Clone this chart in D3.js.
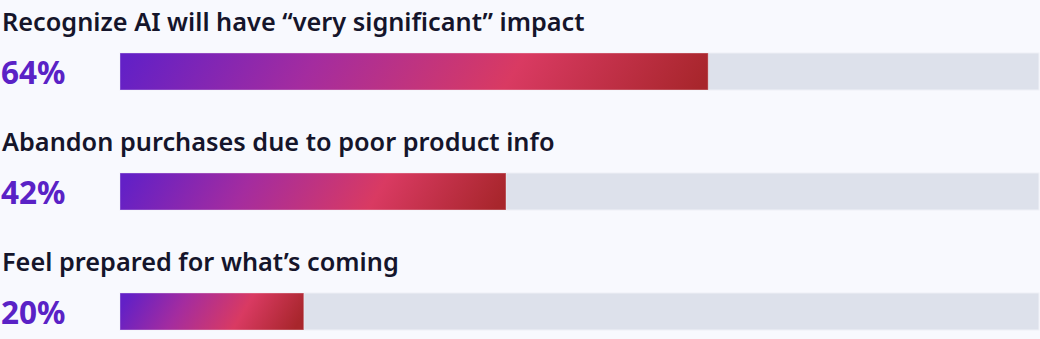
<!DOCTYPE html>
<html>
<head>
<meta charset="utf-8">
<script src="https://cdn.jsdelivr.net/npm/d3@7"></script>
<style>
  html, body { margin: 0; padding: 0; background: #f8f9fe; }
</style>
</head>
<body>
<div id="main"></div>
<script>
(function(){

  const labels = [
    'Recognize AI will have \u201cvery significant\u201d impact',
    'Abandon purchases due to poor product info',
    'Feel prepared for what\u2019s coming'
  ]
  const values = [64, 42, 20]

  const width = 1040
  const height = 339
  const margin = {top: 0, right: 1, bottom: 0, left: 120}
  const rowHeight = 120
  const barHeight = 37
  const tilt = 0.6 // horizontal shift of gradient stripes per px of height

  const svg = d3.select('#main').append('svg')
    .attr('width', width)
    .attr('height', height)
    .style('display', 'block')

  const xScale = d3.scaleLinear()
    .domain([0, 100])
    .range([margin.left, width - margin.right])

  const yScale = d3.scaleBand()
    .domain(d3.range(labels.length))
    .range([0, rowHeight * labels.length])

  const data = labels.map((l, i) => ({label: l, value: values[i], i}))

  const stops = [
    [0, '#6320c6'],
    [0.32, '#a42c9f'],
    [0.67, '#d93a62'],
    [1, '#a8262c']
  ]

  const defs = svg.append('defs')
  data.forEach(d => {
    const w = xScale(d.value) - xScale(0)
    const t = tilt * barHeight / w
    const g = defs.append('linearGradient')
      .attr('id', 'grad' + d.i)
      .attr('x1', 0).attr('y1', 0.5 - t / 2)
      .attr('x2', 1).attr('y2', 0.5 + t / 2)
    stops.forEach(s => g.append('stop').attr('offset', s[0]).attr('stop-color', s[1]))
  })

  const rows = svg.selectAll('g.row')
    .data(data)
    .join('g')
    .attr('class', 'row')
    .attr('transform', d => `translate(0,${yScale(d.i)})`)

  rows.append('text')
    .attr('x', 2)
    .attr('y', 31)
    .attr('fill', '#15152b')
    .style('font-family', 'Noto Sans, sans-serif')
    .style('font-weight', 600)
    .style('font-size', '25.3px')
    .text(d => d.label)

  rows.append('text')
    .attr('x', 1)
    .attr('y', 84)
    .attr('fill', '#5a22c6')
    .style('font-family', 'Noto Sans, sans-serif')
    .style('font-weight', 700)
    .style('font-size', '31.5px')
    .text(d => d.value + '%')

  rows.append('rect')
    .attr('x', xScale(0))
    .attr('y', 53)
    .attr('width', xScale(100) - xScale(0))
    .attr('height', barHeight)
    .attr('fill', '#dde1eb')
    .attr('stroke', '#eef0f6')
    .attr('stroke-width', 1)

  rows.append('rect')
    .attr('x', xScale(0))
    .attr('y', 53)
    .attr('width', d => xScale(d.value) - xScale(0))
    .attr('height', barHeight)
    .attr('fill', d => `url(#grad${d.i})`)
    .attr('stroke', 'rgba(255,255,255,0.35)')
    .attr('stroke-width', 1)
}())
</script>
</body>
</html>
